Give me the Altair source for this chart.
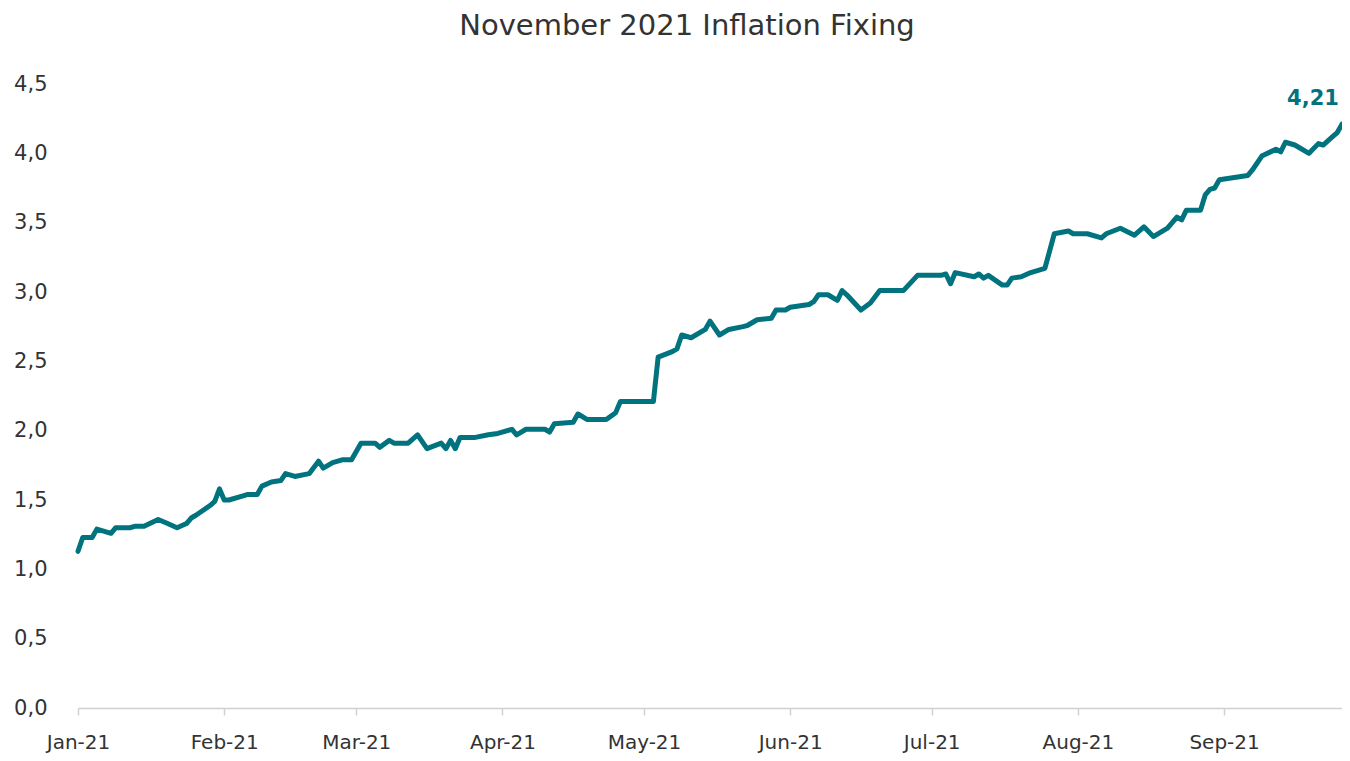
import altair as alt
import pandas as pd

dates = [
    "2021-01-01", "2021-01-02", "2021-01-04", "2021-01-05", "2021-01-08", "2021-01-09",
    "2021-01-12", "2021-01-13", "2021-01-15", "2021-01-18", "2021-01-20", "2021-01-22",
    "2021-01-24", "2021-01-25", "2021-01-26", "2021-01-29", "2021-01-30", "2021-01-31",
    "2021-02-01", "2021-02-02", "2021-02-05", "2021-02-06", "2021-02-08", "2021-02-09",
    "2021-02-11", "2021-02-13", "2021-02-14", "2021-02-16", "2021-02-19", "2021-02-21",
    "2021-02-22", "2021-02-24", "2021-02-26", "2021-02-28", "2021-03-02", "2021-03-05",
    "2021-03-06", "2021-03-08", "2021-03-09", "2021-03-12", "2021-03-14", "2021-03-16",
    "2021-03-19", "2021-03-20", "2021-03-21", "2021-03-22", "2021-03-23", "2021-03-26",
    "2021-03-29", "2021-03-31", "2021-04-03", "2021-04-04", "2021-04-06", "2021-04-10",
    "2021-04-11", "2021-04-12", "2021-04-16", "2021-04-17", "2021-04-19", "2021-04-23",
    "2021-04-25", "2021-04-26", "2021-05-03", "2021-05-04", "2021-05-07", "2021-05-08",
    "2021-05-09", "2021-05-11", "2021-05-14", "2021-05-15", "2021-05-17", "2021-05-19",
    "2021-05-22", "2021-05-23", "2021-05-25", "2021-05-28", "2021-05-29", "2021-05-31",
    "2021-06-01", "2021-06-05", "2021-06-06", "2021-06-07", "2021-06-09", "2021-06-11",
    "2021-06-12", "2021-06-13", "2021-06-16", "2021-06-18", "2021-06-20", "2021-06-25",
    "2021-06-28", "2021-07-03", "2021-07-04", "2021-07-05", "2021-07-06", "2021-07-10",
    "2021-07-11", "2021-07-12", "2021-07-13", "2021-07-16", "2021-07-17", "2021-07-18",
    "2021-07-20", "2021-07-22", "2021-07-25", "2021-07-27", "2021-07-30", "2021-07-31",
    "2021-08-03", "2021-08-06", "2021-08-07", "2021-08-10", "2021-08-13", "2021-08-15",
    "2021-08-17", "2021-08-20", "2021-08-22", "2021-08-23", "2021-08-24", "2021-08-27",
    "2021-08-28", "2021-08-29", "2021-08-30", "2021-08-31", "2021-09-06", "2021-09-07",
    "2021-09-09", "2021-09-12", "2021-09-13", "2021-09-14", "2021-09-16", "2021-09-19",
    "2021-09-21", "2021-09-22", "2021-09-24", "2021-09-25", "2021-09-26",
]

values = [
    1.13, 1.23, 1.23, 1.29, 1.26, 1.30,
    1.30, 1.31, 1.31, 1.36, 1.33, 1.30,
    1.33, 1.37, 1.39, 1.46, 1.49, 1.58,
    1.50, 1.50, 1.53, 1.54, 1.54, 1.60,
    1.63, 1.64, 1.69, 1.67, 1.69, 1.78,
    1.73, 1.77, 1.79, 1.79, 1.91, 1.91,
    1.88, 1.93, 1.91, 1.91, 1.97, 1.87,
    1.91, 1.87, 1.93, 1.87, 1.95, 1.95,
    1.97, 1.98, 2.01, 1.97, 2.01, 2.01,
    1.99, 2.05, 2.06, 2.12, 2.08, 2.08,
    2.13, 2.21, 2.21, 2.53, 2.57, 2.59,
    2.69, 2.67, 2.73, 2.79, 2.69, 2.73,
    2.75, 2.76, 2.80, 2.81, 2.87, 2.87,
    2.89, 2.91, 2.93, 2.98, 2.98, 2.94,
    3.01, 2.98, 2.87, 2.92, 3.01, 3.01,
    3.12, 3.12, 3.13, 3.06, 3.14, 3.11,
    3.13, 3.10, 3.12, 3.05, 3.05, 3.10,
    3.11, 3.14, 3.17, 3.42, 3.44, 3.42,
    3.42, 3.39, 3.42, 3.46, 3.41, 3.47,
    3.40, 3.46, 3.54, 3.52, 3.59, 3.59,
    3.70, 3.74, 3.75, 3.81, 3.84, 3.88,
    3.98, 4.03, 4.01, 4.08, 4.06, 4.00,
    4.07, 4.06, 4.12, 4.15, 4.21,
]

month_ticks = [1, 2, 3, 4, 5, 6, 7, 8, 9]
y_ticks = [0, 0.5, 1, 1.5, 2, 2.5, 3, 3.5, 4, 4.5]
title_text = "November 2021 Inflation Fixing"

TEAL = "#00737F"
TEXT = "#333333"
FONT = "DejaVu Sans"

df = pd.DataFrame({"date": dates, "value": values})
last = pd.DataFrame({
    "date": [dates[-1]],
    "value": [values[-1]],
    "label": [f"{values[-1]:.2f}".replace(".", ",")],
})

x_enc = alt.X(
    "date:T",
    scale=alt.Scale(
        type="utc",
        domain=[
            alt.DateTime(year=2021, month=1, date=1, utc=True),
            alt.DateTime(year=2021, month=9, date=26, utc=True),
        ],
    ),
    axis=alt.Axis(
        title=None,
        values=[alt.DateTime(year=2021, month=m, date=1, utc=True) for m in month_ticks],
        format="%b-%y",
        grid=False,
        domainColor="#D0D0D0",
        domainWidth=1.5,
        tickColor="#D0D0D0",
        tickWidth=1.5,
        tickSize=7,
        labelPadding=17,
        labelFlush=False,
        labelFont=FONT,
        labelFontSize=20,
        labelColor=TEXT,
    ),
)

y_enc = alt.Y(
    "value:Q",
    scale=alt.Scale(domain=[0, 4.5], nice=False),
    axis=alt.Axis(
        title=None,
        values=y_ticks,
        labelExpr="replace(format(datum.value, '.1f'), '.', ',')",
        grid=False,
        domain=False,
        ticks=False,
        labelPadding=31,
        labelFont=FONT,
        labelFontSize=21,
        labelColor=TEXT,
    ),
)

line = alt.Chart(df).mark_line(
    color=TEAL, strokeWidth=5, strokeCap="round", strokeJoin="round"
).encode(x=x_enc, y=y_enc)

label = alt.Chart(last).mark_text(
    color=TEAL, font=FONT, fontSize=21, fontWeight="bold", dx=-29, dy=-25
).encode(x="date:T", y="value:Q", text="label:N")

chart = (
    alt.layer(line, label)
    .properties(
        width=1264,
        height=624,
        autosize=alt.AutoSizeParams(type="none"),
        padding={"left": 70, "top": 76, "right": 0, "bottom": 45},
        background="white",
        view=alt.ViewBackground(stroke="transparent", strokeWidth=0),
        title=alt.TitleParams(
            text=title_text,
            font=FONT,
            fontSize=29,
            fontWeight="normal",
            color=TEXT,
            anchor="middle",
            dx=-23,
            offset=32,
        ),
    )
    .configure_view(strokeOpacity=0, strokeWidth=0)
)

chart.save("out.html", embed_options={"renderer": "svg", "actions": False})
